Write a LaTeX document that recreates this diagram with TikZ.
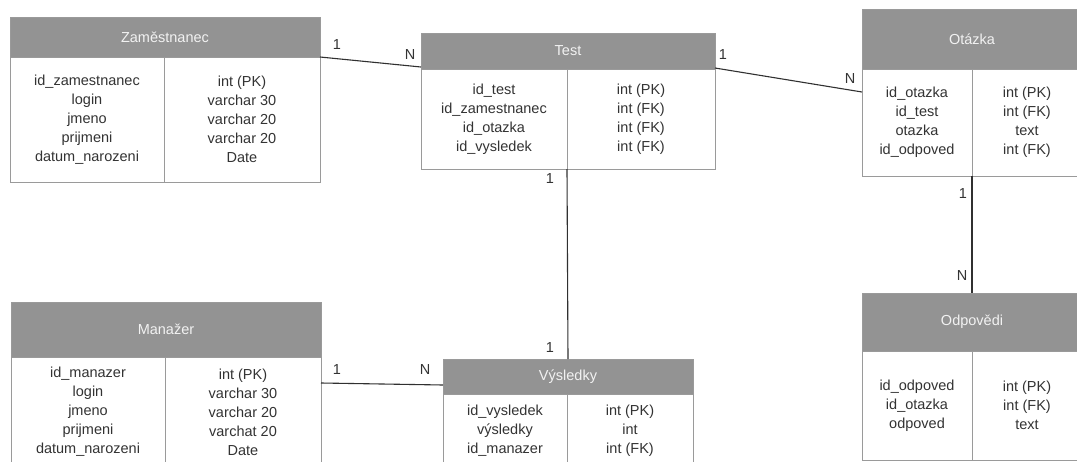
\documentclass[tikz,border=0pt]{standalone}
\usepackage{fontspec}
\setmainfont{Liberation Sans}
\usetikzlibrary{positioning}

\definecolor{hdrgray}{HTML}{939393}
\definecolor{hdrtext}{HTML}{F2F2F2}
\definecolor{boxgray}{HTML}{9A9A9A}
\definecolor{bodytext}{HTML}{333333}
\definecolor{linegray}{HTML}{303030}

\begin{document}
\begin{tikzpicture}[x=1pt, y=-1pt,
    every node/.style={font=\fontsize{14.5}{19}\selectfont, inner sep=0pt, outer sep=0pt},
    hdr/.style={draw=boxgray, line width=1pt, fill=hdrgray, text=hdrtext, rectangle, anchor=north west},
    col/.style={draw=boxgray, line width=1pt, fill=white, text=bodytext, rectangle, align=center},
    rel/.style={draw=linegray, line width=1.1pt},
    card/.style={text=bodytext}]
    \clip (0,0) rectangle (1077,461);
    \fill[white] (0,0) rectangle (1077,461);

    % Zamestnanec
    \node[hdr, minimum width=310pt, minimum height=40pt] (zam) at (10,17) {Zaměstnanec};
    \node[col, minimum width=154pt, minimum height=125pt, below right=0pt and 0pt of zam.south west] (zamL)
        {id\_zamestnanec\\login\\jmeno\\prijmeni\\datum\_narozeni};
    \node[col, minimum width=156pt, minimum height=125pt, right=0pt of zamL] (zamR)
        {int (PK)\\varchar 30\\varchar 20\\varchar 20\\Date};

    % Test
    \node[hdr, minimum width=294pt, minimum height=36pt] (test) at (421,33) {Test};
    \node[col, minimum width=146pt, minimum height=100pt, below right=0pt and 0pt of test.south west] (testL)
        {id\_test\\id\_zamestnanec\\id\_otazka\\id\_vysledek};
    \node[col, minimum width=148pt, minimum height=100pt, right=0pt of testL] (testR)
        {int (PK)\\int (FK)\\int (FK)\\int (FK)};

    % Otazka
    \node[hdr, minimum width=220pt, minimum height=60pt] (ota) at (862,9) {Otázka};
    \node[col, minimum width=110pt, minimum height=107pt, below right=0pt and 0pt of ota.south west] (otaL)
        {id\_otazka\\id\_test\\otazka\\id\_odpoved};
    \node[col, minimum width=110pt, minimum height=107pt, right=0pt of otaL] (otaR)
        {int (PK)\\int (FK)\\text\\int (FK)};

    % Odpovedi
    \node[hdr, minimum width=220pt, minimum height=58pt] (odp) at (862,293) {Odpovědi};
    \node[col, minimum width=110pt, minimum height=109pt, below right=0pt and 0pt of odp.south west] (odpL)
        {id\_odpoved\\id\_otazka\\odpoved};
    \node[col, minimum width=110pt, minimum height=109pt, right=0pt of odpL] (odpR)
        {int (PK)\\int (FK)\\text};

    % Manazer
    \node[hdr, minimum width=310pt, minimum height=55pt] (man) at (11,302) {Manažer};
    \node[col, minimum width=154pt, minimum height=110pt, below right=0pt and 0pt of man.south west] (manL)
        {id\_manazer\\login\\jmeno\\prijmeni\\datum\_narozeni};
    \node[col, minimum width=156pt, minimum height=110pt, right=0pt of manL] (manR)
        {int (PK)\\varchar 30\\varchar 20\\varchat 20\\Date};

    % Vysledky
    \node[hdr, minimum width=250pt, minimum height=35pt] (vys) at (443,359) {Výsledky};
    \node[col, minimum width=124pt, minimum height=74pt, below right=0pt and 0pt of vys.south west] (vysL)
        {id\_vysledek\\výsledky\\id\_manazer};
    \node[col, minimum width=126pt, minimum height=74pt, right=0pt of vysL] (vysR)
        {int (PK)\\int\\int (FK)};

    % Relations
    \draw[rel] (zam.south east) -- ([yshift=2pt]test.south west);
    \draw[rel] ([yshift=1pt]test.south east) -- ([yshift=-23pt]otaL.north west);
    \draw[rel] (testL.south east) -- (vys.north);
    \draw[rel] (otaL.south east) -- (odp.north);
    \draw[rel] ([yshift=-26pt]man.south east) -- ([yshift=9pt]vys.south west);

    % Cardinalities
    \node[card] (c1) at (337,45) {1};
    \node[card] (c2) at (410,55) {N};
    \node[card] (c3) at (723,55) {1};
    \node[card] (c4) at (850,79) {N};
    \node[card] (c5) at (550,179) {1};
    \node[card] (c6) at (550,348) {1};
    \node[card] (c7) at (963,194) {1};
    \node[card] (c8) at (962,276) {N};
    \node[card] (c9) at (337,370) {1};
    \node[card] (c10) at (425,370) {N};
\end{tikzpicture}
\end{document}
